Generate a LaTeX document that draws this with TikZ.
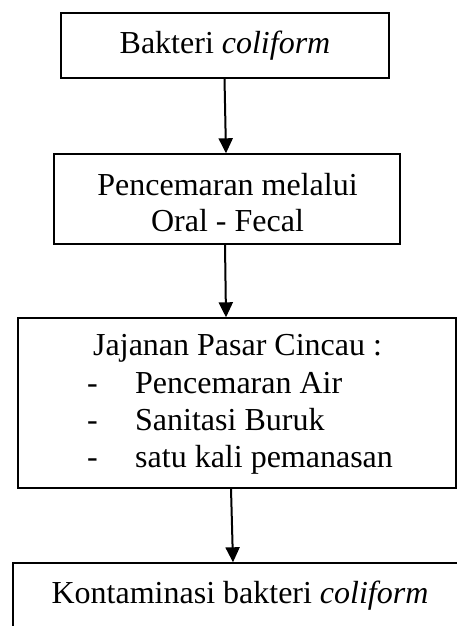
\documentclass[tikz,border=0pt]{standalone}
\usepackage{fontspec}
\setmainfont{Liberation Serif}
\usetikzlibrary{arrows.meta}
\tikzset{
  boxnode/.style={draw, line width=1.4pt, inner sep=0pt},
  txt/.style={inner sep=0pt, font=\fontsize{32}{37.5}\selectfont},
  arr/.style={line width=2pt, -{Triangle[length=15pt,width=14pt]}}
}
\begin{document}
\begin{tikzpicture}[x=1pt,y=-1pt]
\clip (0,0) rectangle (457,626);
\useasboundingbox (0,0) rectangle (457,626);
% boxes
\node[boxnode, minimum width=328pt, minimum height=65pt] (b1) at (225,45.5) {};
\node[boxnode, minimum width=346pt, minimum height=90pt] (b2) at (227,199) {};
\node[boxnode, minimum width=438pt, minimum height=170pt] (b3) at (237,403) {};
\node[boxnode, minimum width=454pt, minimum height=120pt] (b4) at (240,623) {};
% texts
\node[txt, anchor=base] (t1) at (225,53) {Bakteri \textit{coliform}};
\node[txt, anchor=base] (t2a) at (227.5,195) {Pencemaran melalui};
\node[txt, anchor=base] (t2b) at (227.5,231) {Oral - Fecal};
\node[txt, anchor=base west] (t3) at (93,355) {Jajanan Pasar Cincau :};
\node[txt, anchor=base west] (d1) at (87,393) {-};
\node[txt, anchor=base west] (l1) at (135,393) {Pencemaran Air};
\node[txt, anchor=base west] (d2) at (87,430) {-};
\node[txt, anchor=base west] (l2) at (135,430) {Sanitasi Buruk};
\node[txt, anchor=base west] (d3) at (87,467) {-};
\node[txt, anchor=base west] (l3) at (135,467) {satu kali pemanasan};
\node[txt, anchor=base] (t4) at (240,603) {Kontaminasi bakteri \textit{coliform}};
% arrows
\draw[arr] ([xshift=-0.5pt]b1.south) -- ([xshift=-1pt]b2.north);
\draw[arr] ([xshift=-2pt]b2.south) -- ([xshift=-1pt]b2.south |- b3.north);
\draw[arr] ([xshift=-6pt]b3.south) -- ([xshift=-7pt]b4.north);
\end{tikzpicture}
\end{document}
